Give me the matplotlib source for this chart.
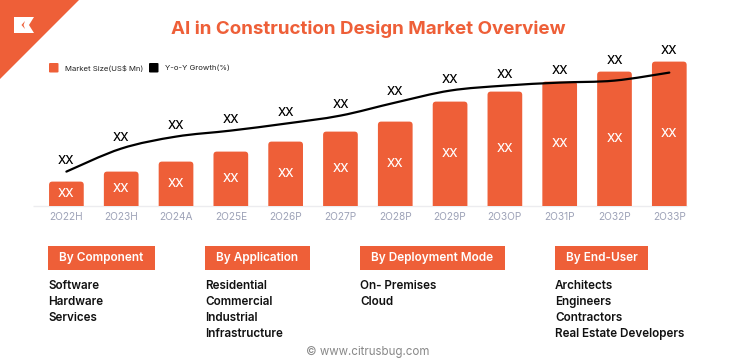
import matplotlib
matplotlib.use('Agg')
import matplotlib.pyplot as plt
from matplotlib.patches import FancyBboxPatch, Polygon, Rectangle, PathPatch
from matplotlib.path import Path
import numpy as np

# chart data (arbitrary units)
years = ["2O22H", "2O23H", "2O24A", "2O25E", "2O26P", "2O27P",
         "2O28P", "2O29P", "2O3OP", "2O31P", "2O32P", "2O33P"]
market_size = [24, 34, 44, 54, 64, 74, 84, 104, 114, 124, 134, 144]
yoy_growth = [34, 57, 69, 75, 82, 90, 103, 115, 120, 123, 125, 133]
bar_labels = ["XX"] * 12
growth_labels = ["XX"] * 12

# segment boxes
segments = ["By Component", "By Application", "By Deployment Mode", "By End-User"]
segment_items = [
    ["Software", "Hardware", "Services"],
    ["Residential", "Commercial", "Industrial", "Infrastructure"],
    ["On- Premises", "Cloud"],
    ["Architects", "Engineers", "Contractors", "Real Estate Developers"],
]

ORANGE = "#EE5F38"
TICK_GREY = "#9EA3B8"
FONT = "Inter"
W, H = 736, 364

plt.rcParams['font.family'] = [FONT, 'DejaVu Sans']


def fx(x):
    return x / W


def fy(y):
    return 1 - y / H


fig = plt.figure(figsize=(W / 100, H / 100), dpi=100)
fig.patch.set_facecolor('white')

# main chart axes: baseline at 205.6 px, 1 data unit = 1 px vertically
base_px, top_px = 205.6, 40
ax = fig.add_axes([0, fy(base_px), 1, (base_px - top_px) / H])
step = 54.81
xmin = -66.4 / step
ax.set_xlim(xmin, xmin + W / step)
ax.set_ylim(0, base_px - top_px)
ax.axis('off')

x = np.arange(len(years))
bw = 0.633
bars = ax.bar(x, market_size, width=bw, color=ORANGE)
# rounded tops: swap rectangles for rounded boxes, bottom corners hidden below y=0
for b in bars:
    b.set_visible(False)
    rb = FancyBboxPatch((b.get_x(), -6), b.get_width(), b.get_height() + 6,
                        boxstyle="round,pad=0,rounding_size=0.06",
                        mutation_aspect=step, fc=ORANGE, ec='none')
    ax.add_patch(rb)

ax.hlines(0, -0.61, 11.32, color="#ECECEF", lw=1, clip_on=False, zorder=0)

for i, v in enumerate(market_size):
    ax.text(i, v / 2, bar_labels[i], color='white', fontsize=8.5,
            fontweight='medium', ha='center', va='center')
    ax.text(i, 0 - 11.5, years[i], color=TICK_GREY, fontsize=7.3,
            ha='center', va='center', clip_on=False)

# smooth growth line (Catmull-Rom through the read points)
pts = np.column_stack([x, yoy_growth]).astype(float)
verts = [pts[0]]
codes = [Path.MOVETO]
n = len(pts)
for i in range(n - 1):
    p0 = pts[i - 1] if i > 0 else pts[i]
    p1, p2 = pts[i], pts[i + 1]
    p3 = pts[i + 2] if i + 2 < n else pts[i + 1]
    verts += [p1 + (p2 - p0) / 6, p2 - (p3 - p1) / 6, p2]
    codes += [Path.CURVE4] * 3
ax.add_patch(PathPatch(Path(verts, codes), fc='none', ec='black', lw=1.6,
                       capstyle='round', zorder=3))

for i, g in enumerate(yoy_growth):
    ax.text(i, max(g, market_size[i]) + 11, growth_labels[i], color='black',
            fontsize=8.5, fontweight='medium', ha='center', va='center', clip_on=False)

# corner logo
fig.add_artist(Polygon([(fx(0), fy(0)), (fx(79), fy(0)), (fx(0), fy(79))],
                       closed=True, transform=fig.transFigure, fc=ORANGE, ec='none'))
fig.add_artist(Polygon([(fx(14), fy(17)), (fx(34), fy(17)), (fx(29), fy(25)),
                        (fx(34), fy(33)), (fx(14), fy(33))],
                       closed=True, transform=fig.transFigure, fc='white', ec='none'))
fig.add_artist(Polygon([(fx(25), fy(21)), (fx(21.5), fy(25)), (fx(25), fy(29)),
                        (fx(23.5), fy(25))],
                       closed=True, transform=fig.transFigure, fc=ORANGE, ec='none'))

# title
fig.text(fx(368.5), fy(29), "AI in Construction Design Market Overview",
         color=ORANGE, fontsize=13.5, fontweight='bold', ha='center', va='center')

# legend
for sx, col, lab in [(49, ORANGE, "Market Size(US$ Mn)"), (149, 'black', "Y-o-Y Growth(%)")]:
    fig.add_artist(FancyBboxPatch((fx(sx), fy(72.5)), 9.5 / W, 9.5 / H,
                                  boxstyle="round,pad=0,rounding_size=0.002",
                                  transform=fig.transFigure, fc=col, ec='none'))
    fig.text(fx(sx + 16), fy(68), lab, fontsize=5.6, ha='left', va='center', color='#222222')

# segment boxes and lists
box_left = [48, 205, 360, 555]
box_right = [155, 310, 505, 648]
for seg, items, l, r in zip(segments, segment_items, box_left, box_right):
    fig.add_artist(Rectangle((fx(l), fy(270)), (r - l) / W, 24 / H,
                             transform=fig.transFigure, fc=ORANGE, ec='none'))
    fig.text(fx((l + r) / 2), fy(258), seg, color='white', fontsize=8.5,
             fontweight='semibold', ha='center', va='center')
    for k, it in enumerate(items):
        fig.text(fx(l), fy(285.7 + 16 * k), it, color='#111111', fontsize=8.4,
                 fontweight='semibold', ha='left', va='center')

fig.text(fx(368), fy(351.5), "\u00a9 www.citrusbug.com", color='#888888',
         fontsize=8.3, ha='center', va='center')

fig.savefig('out.png', dpi=100, facecolor='white')
plt.close(fig)
